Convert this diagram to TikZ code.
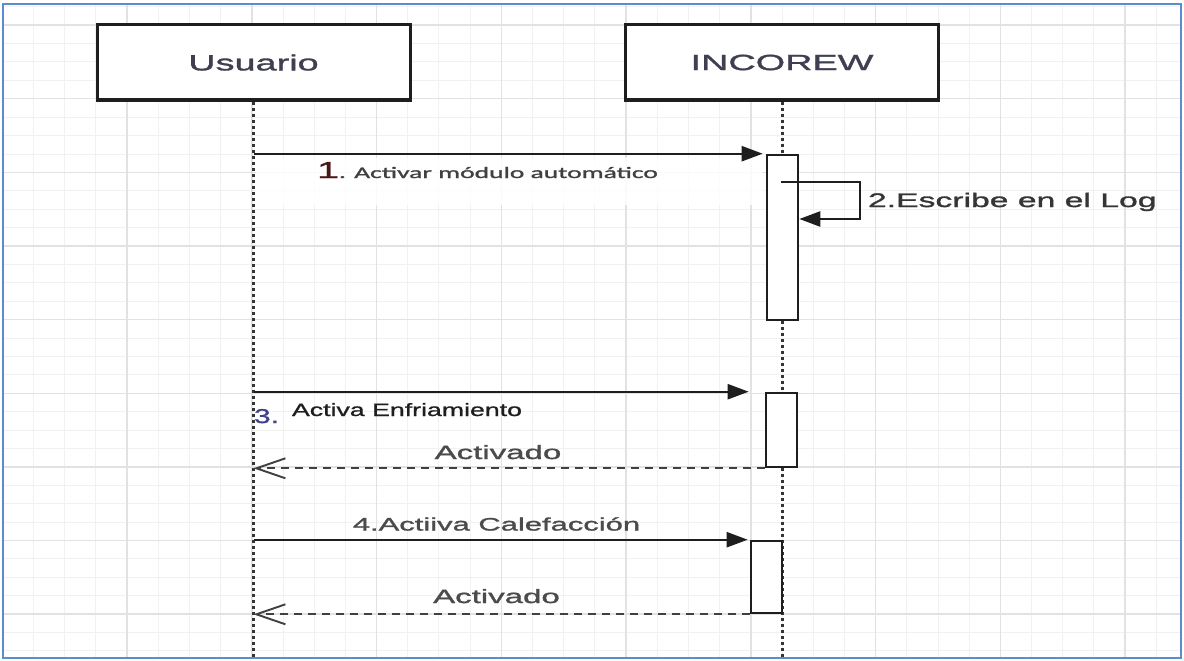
\documentclass[tikz,border=0pt]{standalone}
\usepackage{fontspec}
\usetikzlibrary{arrows.meta,calc}
\setmainfont{Liberation Sans}
% wide-set faces used for every label of the chart
\newfontfamily\wide[FakeStretch=1.72,FakeBold=1.5]{Liberation Sans}
\newfontfamily\widemid[FakeStretch=1.5,FakeBold=1.2]{Liberation Sans}
\newfontfamily\widecal[FakeStretch=1.72,FakeBold=1.5]{Carlito}
\definecolor{gridminor}{HTML}{F1F1F1}
\definecolor{gridmajor}{HTML}{E2E2E2}
\definecolor{frameblue}{HTML}{5B8BD0}
\definecolor{headtext}{HTML}{3F3F52}
\definecolor{ink}{HTML}{1E1E1E}
\tikzset{
  actor/.style={draw=ink, line width=3pt, fill=white, minimum width=313pt,
    minimum height=75pt, inner sep=0pt, text=headtext,
    font=\wide\fontsize{22}{22}\selectfont},
  actbar/.style={draw=ink, line width=2.6pt, fill=white, minimum width=31pt,
    inner sep=0pt},
  life/.style={draw=ink!90, line width=3pt, dash pattern=on 3pt off 3pt},
  msg/.style={draw=ink, line width=2.4pt, -{Triangle[length=21pt,width=15pt]}},
  ret/.style={draw=ink!85, line width=1.9pt, dash pattern=on 8pt off 6pt,
    -{Straight Barb[length=29pt,width=20pt,line width=1.9pt]}},
  lbl/.style={inner sep=0pt, outer sep=0pt},
}
\begin{document}
\begin{tikzpicture}[x=1pt,y=-1pt]
\useasboundingbox (0,0) rectangle (1184,661);
\fill[white] (0,0) rectangle (1184,661);

% squared paper
\begin{scope}
  \clip (3,4) rectangle (1181,658);
  \foreach \k in {0,...,37}
    \draw[gridminor, line width=1pt] ({2.3+31.19*\k},0) -- ++(0,661);
  \foreach \k in {0,...,35}
    \draw[gridminor, line width=1pt] (0,{6.8+18.4*\k}) -- ++(1184,0);
  \foreach \k in {0,...,9}
    \draw[gridmajor, line width=1.4pt] ({2.3+124.75*\k},0) -- ++(0,661);
  \foreach \k in {0,...,8}
    \draw[gridmajor, line width=1.4pt] (0,{25.2+73.6*\k}) -- ++(1184,0);
  % pale patch under the first message label
  \fill[white, opacity=0.85] (256,158) rectangle (762,205);
\end{scope}
\draw[frameblue, line width=2.4pt] (3,4) rectangle (1181,658);

% participants
\node[actor] (usr) at (253.5,62.5) {Usuario};
\node[actor] (inc) at (782,62.5) {INCOREW};
\coordinate (bottom) at (0,657);

% activation bars
\node[actbar, minimum height=165pt] (b1) at (782.5,237.5) {};
\node[actbar, minimum height=74pt] (b2) at (781.5,430) {};
\node[actbar, minimum height=72pt] (b3) at (766.5,577) {};

% lifelines
\draw[life] (usr.south) -- (usr.south |- bottom);
\draw[life] (inc.south) -- (inc.south |- b1.north);
\draw[life] (inc.south |- b1.south) -- (inc.south |- b2.north);
\draw[life] (inc.south |- b2.south) -- (inc.south |- bottom);
% bars again on top of the lifeline
\node[actbar, minimum height=165pt] at (b1) {};
\node[actbar, minimum height=74pt] at (b2) {};
\node[actbar, minimum height=72pt] at (b3) {};

% 1. user switches on automatic mode
\draw[msg, shorten >=3pt] (usr.south |- b1.north) -- (b1.north west);
\node[lbl, anchor=base west] (m1) at (317,178)
  {\color{ink!80!red}\wide\fontsize{23}{23}\selectfont 1\color{ink!85}\widecal\fontsize{16}{16}\selectfont . Activar módulo automático};

% 2. self call writing the log
\coordinate (s1) at (781,182);
\coordinate (s2) at (860,182);
\coordinate (s3) at (860,219);
\draw[msg] (s1) -- (s2) -- (s3) -- (b1.east |- s3);
\node[lbl, anchor=base west, text=ink!90] (m2) at (868,207)
  {\wide\fontsize{19.6}{19.6}\selectfont 2.Escribe en el Log};

% 3. cooling
\draw[msg, shorten >=16pt] (usr.south |- b2.north) -- (b2.north west);
\node[lbl, anchor=base west, text=blue!35!gray!80!black] (m3n) at (254,423)
  {\widemid\fontsize{20}{20}\selectfont 3.};
\node[lbl, anchor=base west, text=ink] (m3) at (292,416)
  {\widemid\fontsize{17.8}{17.8}\selectfont Activa Enfriamiento};
\draw[ret] (b2.south west) -- (usr.south |- b2.south);
\node[lbl, anchor=base, text=ink!80] (r3) at (498,459)
  {\wide\fontsize{19.2}{19.2}\selectfont Activado};

% 4. heating
\draw[msg, shorten >=2pt] (usr.south |- b3.north) -- (b3.north west);
\node[lbl, anchor=base, text=ink!80] (m4) at (496.5,530.5)
  {\wide\fontsize{18}{18}\selectfont 4.Actiiva Calefacción};
\draw[ret] (b3.south west) -- (usr.south |- b3.south);
\node[lbl, anchor=base, text=ink!80] (r4) at (496.5,603)
  {\wide\fontsize{19.2}{19.2}\selectfont Activado};
\end{tikzpicture}
\end{document}
